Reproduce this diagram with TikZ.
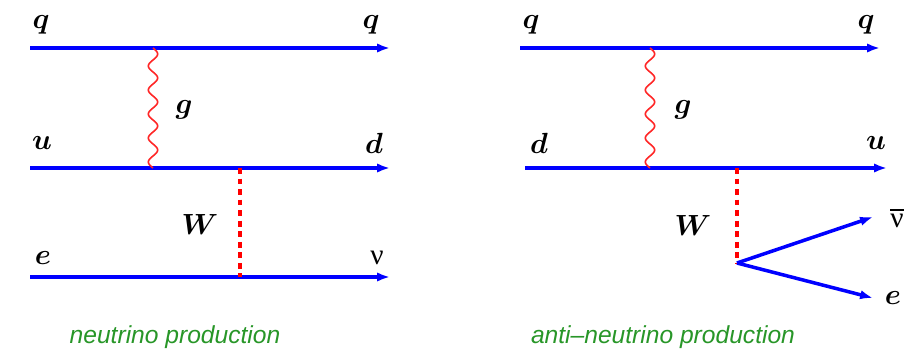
\documentclass[tikz,border=0pt]{standalone}
\usepackage{amsmath,amssymb}
\usepackage{fontspec}
\newfontfamily\greekfont{Liberation Serif}
\newfontfamily\captionfont{Liberation Sans}
\usepackage{tikz}
\usetikzlibrary{arrows.meta,calc}
\definecolor{capgreen}{RGB}{40,150,40}

\begin{document}
\begin{tikzpicture}[
    x=0.03cm, y=-0.03cm,
    fermion/.style={draw=blue, line width=3pt, -{Latex[length=11pt,width=8pt]}},
    gluon/.style={draw=red!85, line width=1.4pt, to path={let \p1=(\tikztostart), \p2=(\tikztotarget) in plot[smooth, domain=0:1, samples=81, variable=\t] ({\x1+4pt*sin(\t*1800)}, {\y1+(\y2-\y1)*\t})}},
    boson/.style={draw=red, line width=2.6pt, dash pattern=on 5pt off 4pt},
    particle/.style={font=\fontsize{28}{32}\selectfont, inner sep=0pt},
    wlabel/.style={font=\fontsize{23}{27}\selectfont, inner sep=0pt},
    nulabel/.style={font=\greekfont\fontsize{25}{29}\selectfont, inner sep=0pt},
    caption/.style={font=\captionfont\itshape\fontsize{21}{25}\selectfont, text=capgreen}
]
\useasboundingbox (0,0) rectangle (911,354);

% Left: neutrino production
\coordinate (lqa) at (30,48);   \coordinate (lqb) at (390,48);
\coordinate (lua) at (30,168);  \coordinate (lub) at (390,168);
\coordinate (lea) at (30,277);  \coordinate (leb) at (390,277);
\coordinate (lg1) at (153,48);  \coordinate (lg2) at (153,168);
\coordinate (lw1) at (240,168); \coordinate (lw2) at (240,277);

\node[particle] (lqin)  at (41,25)   {$\boldsymbol{q}$};
\node[particle] (lqout) at (371,25)  {$\boldsymbol{q}$};
\node[particle] (lg)    at (184,110) {$\boldsymbol{g}$};
\node[particle] (luin)  at (42,143)  {$\boldsymbol{u}$};
\node[particle] (ldout) at (374,143) {$\boldsymbol{d}$};
\node[wlabel]   (lw)    at (200,224) {$\boldsymbol{W}$};
\node[particle] (lein)  at (43,258)  {$\boldsymbol{e}$};
\node[nulabel]  (lnu)   at (377,258) {ν};
\node[caption]  (lcap)  at (175,337) {neutrino production};

\draw[fermion] (lqa) -- (lqb);
\draw[fermion] (lua) -- (lub);
\draw[fermion] (lea) -- (leb);
\draw[gluon] (lg1) to (lg2);
\draw[boson] (lw1) -- (lw2);

% Right: anti-neutrino production
\coordinate (rqa) at (520,48);  \coordinate (rqb) at (880,48);
\coordinate (rda) at (525,168); \coordinate (rdb) at (887,168);
\coordinate (rg1) at (650,48);  \coordinate (rg2) at (650,168);
\coordinate (rw1) at (737,168); \coordinate (rvx) at (737,263);
\coordinate (rnb) at (873,217); \coordinate (reb) at (873,298);

\node[particle] (rqin)  at (531,25)  {$\boldsymbol{q}$};
\node[particle] (rqout) at (866,25)  {$\boldsymbol{q}$};
\node[particle] (rg)    at (683,110) {$\boldsymbol{g}$};
\node[particle] (rdin)  at (539,143) {$\boldsymbol{d}$};
\node[particle] (ruout) at (876,143) {$\boldsymbol{u}$};
\node[wlabel]   (rw)    at (693,225) {$\boldsymbol{W}$};
\node[nulabel]  (rnu)   at (897,218) {$\overline{\hbox{ν}}$};
\node[particle] (rout)  at (893,298) {$\boldsymbol{e}$};
\node[caption]  (rcap)  at (663,337) {anti–neutrino production};

\draw[fermion] (rqa) -- (rqb);
\draw[fermion] (rda) -- (rdb);
\draw[gluon] (rg1) to (rg2);
\draw[boson] (rw1) -- (rvx);
\draw[fermion] (rvx) -- (rnb);
\draw[fermion] (rvx) -- (reb);

\end{tikzpicture}
\end{document}
